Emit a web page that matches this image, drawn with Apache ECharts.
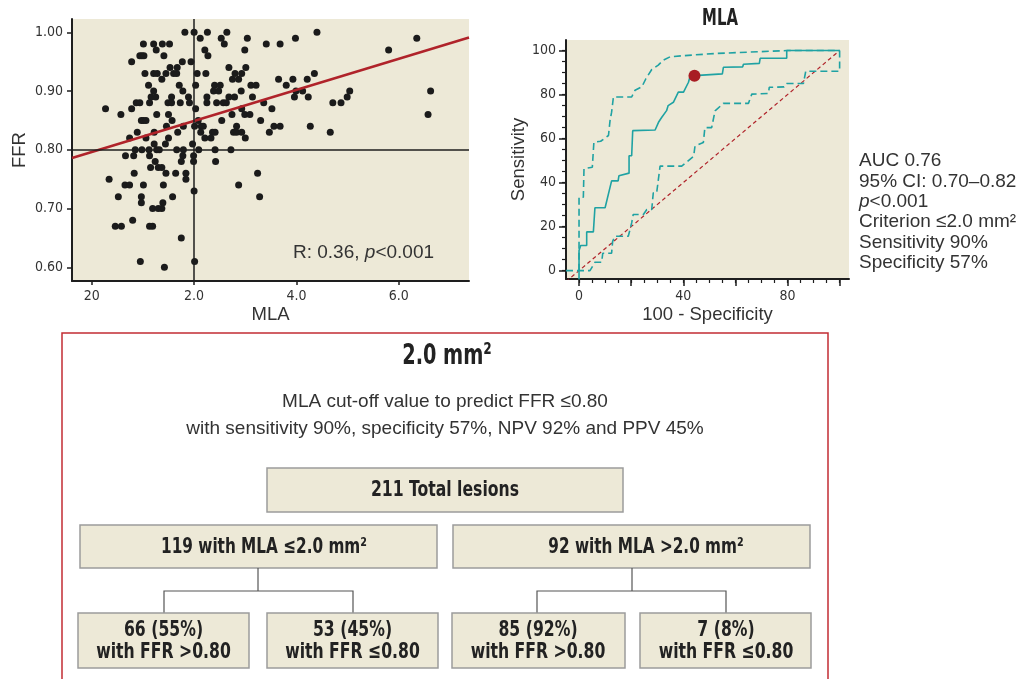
<!DOCTYPE html>
<html>
<head>
<meta charset="utf-8">
<script src="https://cdn.jsdelivr.net/npm/echarts@6/dist/echarts.min.js"></script>
<style>
html, body { margin: 0; padding: 0; background: #fff; }
#chart { width: 1031px; height: 679px; }
</style>
</head>
<body>
<div id="chart"></div>
<script>
// scatter: FFR levels and MLA values read at each level
var ffrLevels = [1.00, 0.99, 0.98, 0.97, 0.96, 0.95, 0.94, 0.93, 0.92, 0.91, 0.90, 0.89, 0.88, 0.87, 0.86, 0.85, 0.84, 0.83, 0.82, 0.81, 0.80, 0.79, 0.78, 0.77, 0.76, 0.75, 0.74, 0.73, 0.72, 0.71, 0.70, 0.68, 0.67, 0.65, 0.61, 0.60];
var mlaAtLevel = [
    [1.82, 2.0, 2.26, 2.64, 4.40],
    [2.12, 2.53, 3.04, 3.98, 6.35],
    [1.01, 1.21, 1.38, 1.52, 2.59, 3.41, 3.68],
    [1.26, 2.21, 2.99, 5.80],
    [0.94, 0.98, 1.02, 1.41, 2.27],
    [0.78, 1.77, 1.94],
    [1.53, 1.67, 2.68, 3.01],
    [1.04, 1.21, 1.28, 1.45, 1.60, 1.66, 2.06, 2.23, 2.80, 2.93, 4.35],
    [1.37, 2.75, 2.87, 3.65, 3.93, 4.21],
    [1.11, 1.71, 2.03, 2.40, 2.51, 3.11, 3.21, 3.80],
    [1.21, 1.78, 2.38, 2.48, 2.92, 3.99, 4.12, 5.04, 6.62],
    [1.16, 1.25, 1.56, 1.89, 2.25, 2.68, 2.79, 3.14, 3.96, 4.23, 4.99],
    [0.87, 0.94, 1.13, 1.49, 1.56, 1.73, 1.91, 2.25, 2.44, 2.57, 2.63, 3.36, 4.71, 4.87],
    [0.27, 0.78, 2.03, 2.93, 3.52],
    [0.57, 1.27, 1.50, 2.74, 2.99, 3.09, 6.57],
    [0.97, 1.01, 1.06, 1.57, 2.08, 2.54, 3.30],
    [1.46, 1.79, 2.01, 2.14, 2.18, 2.83, 3.56, 3.68, 4.27],
    [0.89, 1.22, 1.68, 2.13, 2.36, 2.41, 2.77, 2.83, 2.93, 3.47, 4.66],
    [0.74, 1.06, 1.50, 2.21, 2.33, 3.00],
    [1.22, 1.44, 1.97],
    [0.85, 0.98, 1.12, 1.27, 1.32, 1.66, 1.79, 2.09, 2.41, 2.72],
    [0.66, 0.82, 1.13, 1.78, 1.99],
    [1.24, 1.75, 1.99, 2.42],
    [1.15, 1.30, 1.37],
    [0.83, 1.45, 1.64, 1.84, 3.24],
    [0.34, 1.84],
    [0.65, 0.74, 1.01, 1.40, 2.87],
    [2.0],
    [0.52, 0.97, 1.58, 3.28],
    [0.97, 1.39],
    [1.19, 1.30, 1.37],
    [0.80],
    [0.46, 0.58, 1.13, 1.19],
    [1.75],
    [0.95, 2.01],
    [1.42]
];
var regLine = [[-0.385, 0.786], [7.37, 0.991]];
var xTickValues = [0, 2, 4, 6];
var xTickLabels = ['20', '2.0', '4.0', '6.0'];
var yTickValues = [0.6, 0.7, 0.8, 0.9, 1.0];

// ROC curve (100 - specificity, sensitivity) with 95% CI bands
var rocFit = [[0, -4], [0, 9.1], [0.64, 11.4], [2.94, 11.4], [2.94, 17.6], [5.5, 17.6], [6.1, 28.6], [10, 28.6], [12.5, 40.8], [15, 40.8], [15.3, 43.1], [19.2, 44.3], [19.2, 52.2], [20.2, 52.2], [20.6, 63.6], [29.2, 63.9], [30.5, 67.4], [31.7, 69.6], [33.6, 72.7], [34.2, 75], [36.2, 76.5], [38.1, 81.1], [40.1, 81.1], [42, 85.6], [42.6, 88.2], [44.3, 88.6], [55, 89.4], [55.4, 92.4], [62.8, 92.6], [63.1, 93.8], [69.2, 94.2], [69.5, 96.5], [79.7, 96.5], [79.7, 100], [100, 100]];
var rocUpper = [[0, 0], [0, 33.4], [1.66, 33.4], [1.9, 46.3], [5.1, 47], [5.7, 58.4], [8.3, 58.8], [11.3, 61.4], [11.9, 68.2], [12.5, 72], [13.2, 78.9], [20.2, 78.9], [21.5, 82], [24.1, 83.5], [25.7, 87.3], [27.9, 91.4], [30.4, 93.4], [32.4, 95.7], [35, 97.2], [43.9, 98], [52.8, 98.7], [69.5, 99.5], [79.7, 100], [100, 100]];
var rocLower = [[-5, 0], [4.2, 0], [6.1, 3.8], [8.7, 3.8], [9.1, 7.9], [12.5, 7.9], [12.9, 13.3], [13.8, 15.6], [18.9, 15.6], [20.2, 21.7], [20.8, 25.5], [24.7, 25.5], [26, 27.8], [27.9, 27.8], [28.5, 35.4], [29.8, 35.4], [31.1, 47.5], [39.4, 47.5], [44, 52], [44.5, 56.6], [47.7, 58.2], [48.3, 65], [50.9, 65], [52.2, 72.6], [55.4, 76], [65, 76], [66.3, 80.2], [72.7, 80.5], [73, 83.3], [78.7, 83.5], [79.7, 85], [86.1, 85], [87, 90.6], [100, 90.6], [100, 100]];
var rocDiag = [[-5, -5], [100, 100]];
var cutPoint = [[44.3, 88.6]];
var rocMajor = [0, 20, 40, 60, 80, 100];
var rocXLabels = [0, 40, 80];
var rocMinor = [0, 5, 10, 15, 20, 25, 30, 35, 40, 45, 50, 55, 60, 65, 70, 75, 80, 85, 90, 95, 100];

var rocStats = ['AUC 0.76', '95% CI: 0.70\u20130.82', 'p<0.001', 'Criterion \u22642.0 mm\u00b2', 'Sensitivity 90%', 'Specificity 57%'];

// flow chart labels
var totalLabel = '211 Total lesions';
var groupLabels = ['119 with MLA \u22642.0 mm\u00b2', '92 with MLA >2.0 mm\u00b2'];
var leafLabels = ['66 (55%)\nwith FFR >0.80', '53 (45%)\nwith FFR \u22640.80', '85 (92%)\nwith FFR >0.80', '7 (8%)\nwith FFR \u22640.80'];

var REG = '"Liberation Sans", Arial, sans-serif';
var COND = '"DejaVu Sans Condensed", "Liberation Sans Narrow", sans-serif';
var BG = '#ede9d7';
var TEAL = '#1fa2a3';
var RED = '#b0232a';

var lesions = [];
for (var i = 0; i < ffrLevels.length; i++) {
    for (var j = 0; j < mlaAtLevel[i].length; j++) {
        lesions.push([mlaAtLevel[i][j], ffrLevels[i]]);
    }
}

var myChart = echarts.init(document.getElementById('chart'));

var axisLineStyle = { color: '#1e1e1e', width: 2 };
var nameStyle = { color: '#333', fontFamily: REG, fontSize: 18.5 };

function rect(x, y, w, h) {
    return { type: 'rect', shape: { x: x, y: y, width: w, height: h }, style: { fill: BG, stroke: '#9c9c9c', lineWidth: 1.5 } };
}
// condensed bold text, squeezed horizontally
function boldText(cx, cy, txt, size, sx) {
    return {
        type: 'text', x: cx, y: cy, scaleX: sx,
        style: { text: txt, fill: '#222', font: 'bold ' + size + 'px ' + COND, lineHeight: 22, align: 'center', verticalAlign: 'middle', textAlign: 'center', textVerticalAlign: 'middle' }
    };
}
function conn(points) {
    return { type: 'polyline', shape: { points: points }, style: { stroke: '#555', lineWidth: 1.2, fill: null } };
}
function plainText(cx, cy, txt) {
    return { type: 'text', x: cx, y: cy, style: { text: txt, fill: '#333', font: '19px ' + REG, align: 'center', verticalAlign: 'middle', textAlign: 'center', textVerticalAlign: 'middle' } };
}

var richN = { fontFamily: REG, fontSize: 19, fill: '#333', lineHeight: 20.3 };
var richI = { fontFamily: REG, fontSize: 19, fill: '#333', fontStyle: 'italic', lineHeight: 20.3 };
var statsText = rocStats.map(function (s) {
    if (s.charAt(0) === 'p') return '{i|p}{n|' + s.slice(1) + '}';
    return '{n|' + s + '}';
}).join('\n');

var graphics = [
    // red frame
    { type: 'rect', shape: { x: 62, y: 333, width: 766, height: 380 }, style: { fill: null, stroke: '#c22d33', lineWidth: 1.5 } },
    boldText(447, 356, '2.0 mm\u00b2', 29, 0.74),
    plainText(445, 402, 'MLA cut-off value to predict FFR \u22640.80'),
    plainText(445, 429, 'with sensitivity 90%, specificity 57%, NPV 92% and PPV 45%'),
    rect(267, 468, 356, 44), boldText(445, 490, totalLabel, 21.5, 0.81),
    rect(80, 525, 357, 43), boldText(264, 547, groupLabels[0], 21.5, 0.79),
    rect(453, 525, 357, 43), boldText(646, 547, groupLabels[1], 21.5, 0.79),
    conn([[258, 568], [258, 591]]), conn([[164, 613], [164, 591], [353, 591], [353, 613]]),
    conn([[632, 568], [632, 591]]), conn([[537, 613], [537, 591], [726, 591], [726, 613]]),
    rect(78, 613, 171, 55), boldText(163.5, 641, leafLabels[0], 21.5, 0.81),
    rect(267, 613, 171, 55), boldText(352.5, 641, leafLabels[1], 21.5, 0.81),
    rect(452, 613, 173, 55), boldText(538, 641, leafLabels[2], 21.5, 0.81),
    rect(640, 613, 171, 55), boldText(726, 641, leafLabels[3], 21.5, 0.81),
    // annotations
    { type: 'text', x: 293, y: 253, style: { text: '{n|R: 0.36, }{i|p}{n|<0.001}', rich: { n: richN, i: richI }, verticalAlign: 'middle', textVerticalAlign: 'middle' } },
    boldText(720, 19, 'MLA', 23, 0.72),
    { type: 'text', x: 859, y: 151, style: { text: statsText, rich: { n: richN, i: richI } } }
];

var option = {
    animation: false,
    grid: [
        { left: 72, top: 19, width: 397, height: 262, show: true, backgroundColor: BG, borderWidth: 0 },
        { left: 566, top: 40, width: 283, height: 239, show: true, backgroundColor: BG, borderWidth: 0 }
    ],
    xAxis: [
        {
            gridIndex: 0, type: 'value', min: -0.385, max: 7.37,
            axisLine: { onZero: false, lineStyle: axisLineStyle },
            axisTick: { customValues: xTickValues, length: 4, lineStyle: { color: '#1e1e1e', width: 1.5 } },
            axisLabel: { customValues: xTickValues, margin: 8, formatter: function (v) { return xTickLabels[xTickValues.indexOf(v)]; }, color: '#333', fontFamily: COND, fontSize: 14 },
            splitLine: { show: false },
            name: 'MLA', nameLocation: 'middle', nameGap: 24, nameTextStyle: nameStyle
        },
        {
            gridIndex: 1, type: 'value', min: -5, max: 103.6, position: 'bottom',
            axisLine: { onZero: false, lineStyle: axisLineStyle },
            axisTick: { customValues: rocMajor, length: 7, lineStyle: { color: '#1e1e1e', width: 1.5 } },
            axisLabel: { customValues: rocXLabels, margin: 10, color: '#333', fontFamily: COND, fontSize: 14 },
            splitLine: { show: false },
            name: '100 - Specificity', nameLocation: 'middle', nameGap: 26, nameTextStyle: nameStyle
        },
        {
            gridIndex: 1, type: 'value', min: -5, max: 103.6, position: 'bottom',
            axisLine: { show: false, onZero: false },
            axisTick: { customValues: rocMinor, length: 4, lineStyle: { color: '#1e1e1e', width: 1.2 } },
            axisLabel: { show: false },
            splitLine: { show: false }
        }
    ],
    yAxis: [
        {
            gridIndex: 0, type: 'value', min: 0.5767, max: 1.0226,
            axisLine: { onZero: false, lineStyle: axisLineStyle },
            axisTick: { customValues: yTickValues, length: 5, lineStyle: { color: '#1e1e1e', width: 1.5 } },
            axisLabel: { customValues: yTickValues, margin: 9, formatter: function (v) { return v.toFixed(2); }, color: '#333', fontFamily: COND, fontSize: 14 },
            splitLine: { show: false },
            name: 'FFR', nameLocation: 'middle', nameGap: 43, nameTextStyle: nameStyle
        },
        {
            gridIndex: 1, type: 'value', min: -3.8, max: 104.8, position: 'left',
            axisLine: { onZero: false, lineStyle: axisLineStyle },
            axisTick: { customValues: rocMajor, length: 7, lineStyle: { color: '#1e1e1e', width: 1.5 } },
            axisLabel: { customValues: rocMajor, margin: 10, color: '#333', fontFamily: COND, fontSize: 14 },
            splitLine: { show: false },
            name: 'Sensitivity', nameLocation: 'middle', nameGap: 33, nameTextStyle: nameStyle
        },
        {
            gridIndex: 1, type: 'value', min: -3.8, max: 104.8, position: 'left',
            axisLine: { show: false, onZero: false },
            axisTick: { customValues: rocMinor, length: 4, lineStyle: { color: '#1e1e1e', width: 1.2 } },
            axisLabel: { show: false },
            splitLine: { show: false }
        }
    ],
    series: [
        {
            type: 'scatter', xAxisIndex: 0, yAxisIndex: 0, data: lesions,
            symbolSize: 7, itemStyle: { color: '#1b1b1b', opacity: 1 },
            markLine: {
                silent: true, symbol: 'none', label: { show: false },
                lineStyle: { color: '#1e1e1e', width: 1.5, type: 'solid' },
                data: [{ xAxis: 2.0 }, { yAxis: 0.80 }]
            },
            z: 3
        },
        {
            type: 'line', xAxisIndex: 0, yAxisIndex: 0, data: regLine,
            symbol: 'none', lineStyle: { color: RED, width: 2.5 }, z: 4
        },
        {
            type: 'line', xAxisIndex: 1, yAxisIndex: 1, data: rocDiag, clip: true,
            symbol: 'none', lineStyle: { color: RED, width: 1.2, type: [4, 3] }
        },
        {
            type: 'line', xAxisIndex: 1, yAxisIndex: 1, data: rocLower, clip: true,
            symbol: 'none', lineStyle: { color: TEAL, width: 1.6, type: [7, 4] }
        },
        {
            type: 'line', xAxisIndex: 1, yAxisIndex: 1, data: rocUpper, clip: true,
            symbol: 'none', lineStyle: { color: TEAL, width: 1.6, type: [7, 4] }
        },
        {
            type: 'line', xAxisIndex: 1, yAxisIndex: 1, data: rocFit, clip: true,
            symbol: 'none', lineStyle: { color: TEAL, width: 1.6 }
        },
        {
            type: 'scatter', xAxisIndex: 1, yAxisIndex: 1, data: cutPoint,
            symbolSize: 12, itemStyle: { color: '#a81d23', opacity: 1 }, z: 5
        }
    ],
    graphic: graphics
};

myChart.setOption(option);
</script>
</body>
</html>
